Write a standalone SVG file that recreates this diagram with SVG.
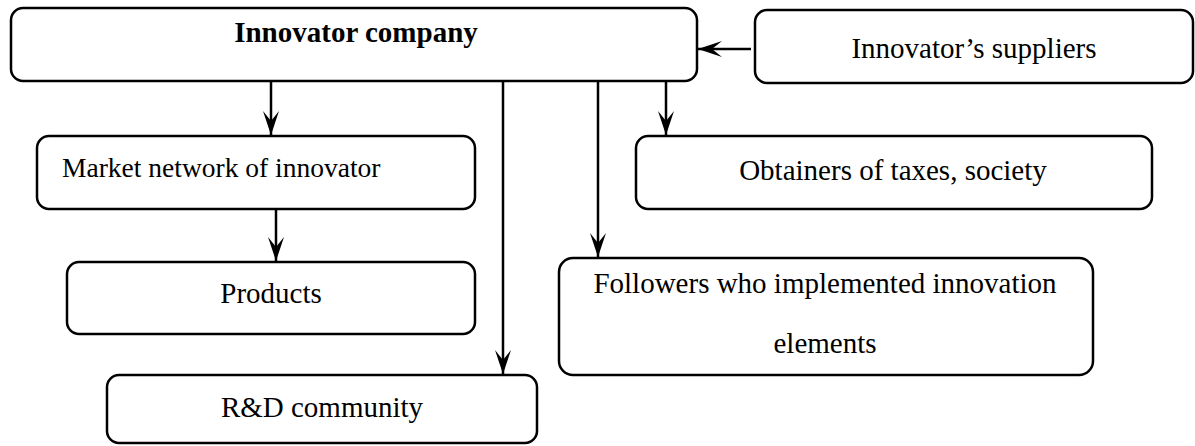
<svg xmlns="http://www.w3.org/2000/svg" width="1195" height="446" viewBox="0 0 1195 446">
<style>
.box{fill:#fff;stroke:#000;stroke-width:2.5}
.t{font-family:"Liberation Serif","Times New Roman",serif;font-size:29px;fill:#000}
.c{text-anchor:middle}
.b{font-weight:bold}
.ln{fill:none;stroke:#000;stroke-width:2.5}
</style>
<defs>
<marker id="ah" markerUnits="userSpaceOnUse" markerWidth="30" markerHeight="20" viewBox="-26 -10 28 20" refX="0" refY="0" orient="auto">
<path d="M0,0 L-24,-8 L-14,0 L-24,8 Z" fill="#000"/>
</marker>
</defs>
<rect width="1195" height="446" fill="#fff"/>
<g id="connectors">
<line class="ln" x1="271" y1="81" x2="271" y2="135" marker-end="url(#ah)"/>
<line class="ln" x1="503" y1="81" x2="503" y2="374" marker-end="url(#ah)"/>
<line class="ln" x1="598" y1="81" x2="598" y2="257" marker-end="url(#ah)"/>
<line class="ln" x1="666" y1="81" x2="666" y2="135" marker-end="url(#ah)"/>
<line class="ln" x1="751" y1="49" x2="698" y2="49" marker-end="url(#ah)"/>
<line class="ln" x1="276" y1="209" x2="276" y2="261" marker-end="url(#ah)"/>
</g>
<g id="innovator">
<rect class="box" x="11" y="8" width="686" height="73" rx="12"/>
<text class="t c b" x="356" y="42">Innovator company</text>
</g>
<g id="suppliers">
<rect class="box" x="755" y="10" width="438" height="73" rx="12"/>
<text class="t c" x="974" y="58">Innovator’s suppliers</text>
</g>
<g id="market">
<rect class="box" x="37" y="136" width="438" height="73" rx="12"/>
<text class="t" x="62" y="177" style="font-size:27.5px">Market network of innovator</text>
</g>
<g id="obtainers">
<rect class="box" x="636" y="136" width="516" height="73" rx="12"/>
<text class="t c" x="893" y="180">Obtainers of taxes, society</text>
</g>
<g id="products">
<rect class="box" x="67" y="262" width="408" height="72" rx="12"/>
<text class="t c" x="271" y="303">Products</text>
</g>
<g id="followers">
<rect class="box" x="559" y="258" width="534" height="117" rx="14"/>
<text class="t c" x="825" y="293">Followers who implemented innovation</text>
<text class="t c" x="825" y="353">elements</text>
</g>
<g id="rd">
<rect class="box" x="107" y="375" width="430" height="68" rx="12"/>
<text class="t c" x="322" y="417">R&amp;D community</text>
</g>
</svg>
